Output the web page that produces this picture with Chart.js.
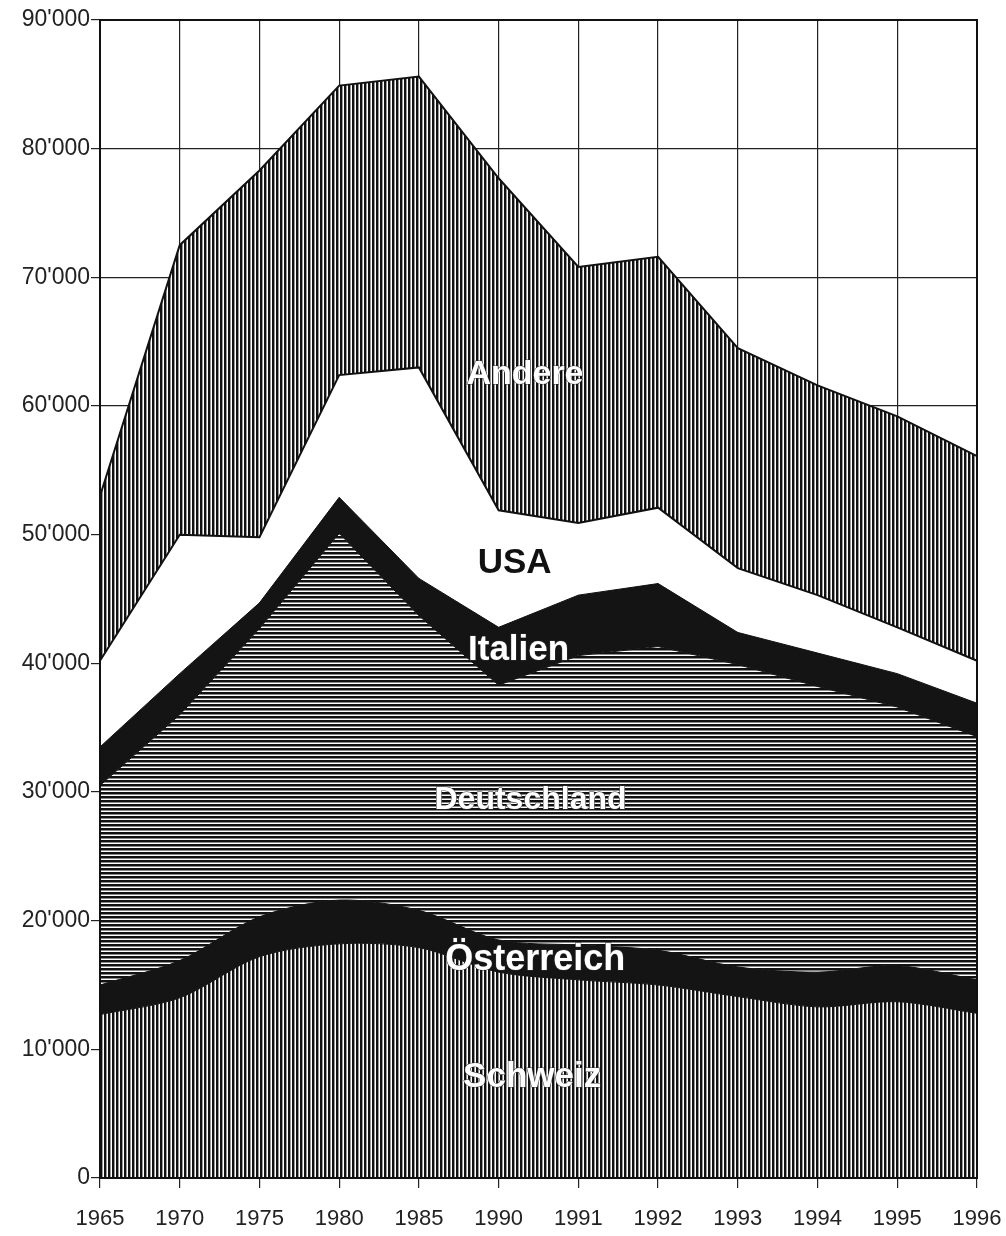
<!DOCTYPE html>
<html lang="de">
<head>
<meta charset="UTF-8">
<title>Übernachtungen nach Herkunft</title>
<style>
  body { margin: 0; background: #fff; }
  .wrap { width: 1006px; height: 1236px; }
</style>
</head>
<body>
<div class="wrap"><canvas id="chart"></canvas></div>
<script src="https://cdn.jsdelivr.net/npm/chart.js"></script>
<script>
  // Daten (gestapelt, Reihenfolge von unten nach oben)
  var jahre = ["1965", "1970", "1975", "1980", "1985", "1990", "1991", "1992", "1993", "1994", "1995", "1996"];
  var schweiz     = [12700, 14000, 17200, 18200, 17900, 16000, 15400, 15000, 14100, 13300, 13700, 12800];
  var oesterreich = [2300, 2900, 3100, 3400, 2900, 2500, 2700, 2700, 2300, 2700, 2800, 2600];
  var deutschland = [15500, 19100, 22400, 28500, 22900, 19800, 22500, 23600, 23500, 22200, 20100, 18900];
  var italien     = [3000, 3200, 2000, 2800, 2900, 4500, 4700, 4900, 2500, 2600, 2600, 2600];
  var usa         = [6700, 10800, 5100, 9500, 16400, 9100, 5600, 5900, 5000, 4500, 3600, 3300];
  var andere      = [12800, 22500, 28500, 22500, 22600, 25800, 19900, 19500, 17100, 16300, 16400, 15900];
  var yTicks = [0, 10000, 20000, 30000, 40000, 50000, 60000, 70000, 80000, 90000];

  // Beschriftungen im Diagramm: [Text, x-Index, y-Wert, Farbe, Schriftgroesse]
  var labels = [
    ["Andere", 5.33, 62400, "#fff", 34],
    ["USA", 5.2, 47800, "#111", 35],
    ["Italien", 5.25, 41000, "#fff", 35],
    ["Deutschland", 5.4, 29400, "#fff", 32],
    ["Österreich", 5.46, 16900, "#fff", 36],
    ["Schweiz", 5.42, 7850, "#fff", 35]
  ];

  function tausender(v) {
    return String(v).replace(/\B(?=(\d{3})+(?!\d))/g, "'");
  }

  // Schraffuren
  function senkrecht() {
    var c = document.createElement("canvas");
    c.width = 4; c.height = 4;
    var g = c.getContext("2d");
    g.fillStyle = "#fff"; g.fillRect(0, 0, 4, 4);
    g.fillStyle = "#111"; g.fillRect(0, 0, 2, 4);
    g.fillStyle = "#999"; g.fillRect(2, 0, 1, 4);
    return g.createPattern(c, "repeat");
  }
  function waagrecht() {
    var c = document.createElement("canvas");
    c.width = 4; c.height = 4;
    var g = c.getContext("2d");
    g.fillStyle = "#fff"; g.fillRect(0, 0, 4, 4);
    g.fillStyle = "#111"; g.fillRect(0, 0, 4, 2);
    g.fillStyle = "#888"; g.fillRect(0, 2, 4, 1);
    return g.createPattern(c, "repeat");
  }

  var beschriftung = {
    id: "beschriftung",
    afterDraw: function (chart) {
      var ctx = chart.ctx, xs = chart.scales.x, ys = chart.scales.y, a = chart.chartArea;
      ctx.save();
      ctx.strokeStyle = "#111";
      ctx.lineWidth = 2;
      ctx.strokeRect(a.left, a.top, a.right - a.left, a.bottom - a.top);
      ctx.textAlign = "center";
      ctx.textBaseline = "middle";
      labels.forEach(function (l) {
        var px = xs.getPixelForValue(l[1]);
        var py = ys.getPixelForValue(l[2]);
        ctx.font = "bold " + l[4] + "px 'Liberation Sans', Arial, sans-serif";
        if (l[3] === "#fff") {
          ctx.lineWidth = 1;
          ctx.strokeStyle = "#333";
          ctx.strokeText(l[0], px, py);
        }
        ctx.fillStyle = l[3];
        ctx.fillText(l[0], px, py);
      });
      ctx.restore();
    }
  };

  var vMuster = senkrecht();
  var hMuster = waagrecht();

  function reihe(name, daten, fuellung, fill, tension, linie) {
    return {
      label: name,
      data: daten,
      backgroundColor: fuellung,
      borderColor: "#111",
      borderWidth: linie,
      fill: fill,
      tension: tension,
      pointRadius: 0
    };
  }

  new Chart(document.getElementById("chart"), {
    type: "line",
    data: {
      labels: jahre,
      datasets: [
        reihe("Schweiz", schweiz, vMuster, "origin", 0.3, 1),
        reihe("Österreich", oesterreich, "#141414", "-1", 0.3, 1),
        reihe("Deutschland", deutschland, hMuster, "-1", 0, 1),
        reihe("Italien", italien, "#141414", "-1", 0, 1),
        reihe("USA", usa, "#ffffff", "-1", 0, 2),
        reihe("Andere", andere, vMuster, "-1", 0, 2)
      ]
    },
    options: {
      responsive: true,
      maintainAspectRatio: false,
      animation: false,
      layout: { padding: { top: 20, right: 29, left: 0, bottom: 0 } },
      plugins: { legend: { display: false }, tooltip: { enabled: false } },
      scales: {
        x: {
          offset: false,
          grid: { color: "#222", lineWidth: 1.2, tickLength: 10, drawOnChartArea: true },
          border: { color: "#111", width: 2 },
          ticks: { color: "#222", font: { family: "'Liberation Sans', Arial, sans-serif", size: 22 }, padding: 18, maxRotation: 0, autoSkip: false },
          afterFit: function (s) { s.height = 58; s.paddingLeft = 0; s.paddingRight = 0; }
        },
        y: {
          stacked: true,
          min: 0,
          max: 90000,
          afterBuildTicks: function (s) { s.ticks = yTicks.map(function (v) { return { value: v }; }); },
          grid: { color: "#222", lineWidth: 1.2, tickLength: 9 },
          border: { color: "#111", width: 2 },
          ticks: {
            color: "#222",
            font: { family: "'Liberation Sans', Arial, sans-serif", size: 23 },
            padding: 1,
            callback: function (v) { return tausender(v); }
          },
          afterFit: function (s) { s.width = 100; }
        }
      }
    },
    plugins: [beschriftung]
  });
</script>
</body>
</html>
